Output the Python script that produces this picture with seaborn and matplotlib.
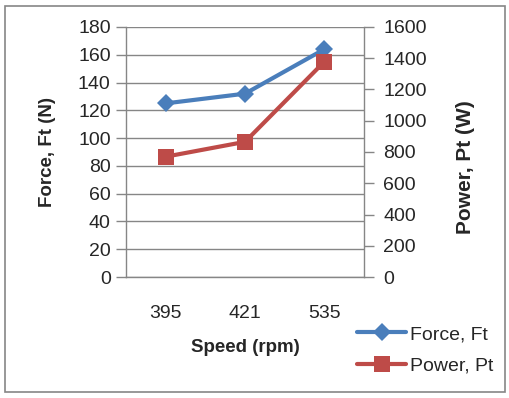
import matplotlib

matplotlib.use("Agg")

import matplotlib.pyplot as plt
import pandas as pd
import seaborn as sns
from matplotlib.patches import Rectangle

speeds = ["395", "421", "535"]
force_ft = [125, 132, 164]
power_pt = [770, 865, 1378]

BLUE = "#4A7EBB"
RED = "#BE4B48"
GRID = "#868686"

sns.set_style("white")
plt.rcParams["font.family"] = ["Liberation Sans", "DejaVu Sans"]

df = pd.DataFrame({"speed": speeds, "force": force_ft, "power": power_pt})

fig = plt.figure(figsize=(5.1, 3.98), dpi=100)
ax = fig.add_axes([126 / 510, 1 - 277 / 398, 238 / 510, 250 / 398])
ax2 = ax.twinx()

sns.lineplot(data=df, x="speed", y="force", ax=ax, color=BLUE, lw=3,
             marker="D", markersize=9, markeredgewidth=0, label="Force, Ft", legend=False)
sns.lineplot(data=df, x="speed", y="power", ax=ax2, color=RED, lw=3,
             marker="s", markersize=12, markeredgewidth=0, label="Power, Pt", legend=False)

ax.set_xlim(-0.5, 2.5)
ax.set_ylim(0, 180)
ax.set_yticks(range(0, 181, 20))
ax2.set_ylim(0, 1600)
ax2.set_yticks(range(0, 1601, 200))
ax.yaxis.grid(True, color=GRID, lw=1)
ax.set_axisbelow(True)

for a in (ax, ax2):
    a.spines["top"].set_visible(False)
    for s in ("left", "right", "bottom"):
        a.spines[s].set_color(GRID)
        a.spines[s].set_linewidth(1)
ax.spines["right"].set_visible(False)
ax2.spines["left"].set_visible(False)
ax2.spines["bottom"].set_visible(False)

ax.tick_params(axis="y", left=True, length=7, width=1, color=GRID, labelsize=14, pad=4)
ax.tick_params(axis="x", bottom=False, labelsize=14, pad=17)
ax2.tick_params(axis="y", right=True, length=7, width=1, color=GRID, labelsize=14, pad=7)

ax.set_xlabel("Speed (rpm)", fontsize=13.5, fontweight="bold", labelpad=12)
ax.set_ylabel("Force, Ft (N)", fontsize=13.5, fontweight="bold", labelpad=16)
ax2.set_ylabel("Power, Pt (W)", fontsize=15, fontweight="bold")
ax2.yaxis.set_label_coords(1.385, 0.44)

handles = ax.get_lines()[:1] + ax2.get_lines()[:1]
fig.legend(handles, ["Force, Ft", "Power, Pt"], loc="center left",
           bbox_to_anchor=(340 / 510, 1 - 350 / 398), frameon=False,
           fontsize=14, handlelength=2.5, labelspacing=0.7, numpoints=1,
           handletextpad=0.2)

fig.patches.append(Rectangle((5 / 510, 6 / 398), 500 / 510, 386 / 398,
                             transform=fig.transFigure, fill=False,
                             edgecolor=GRID, lw=1.2))

fig.savefig("out.png", dpi=100)
plt.close(fig)
